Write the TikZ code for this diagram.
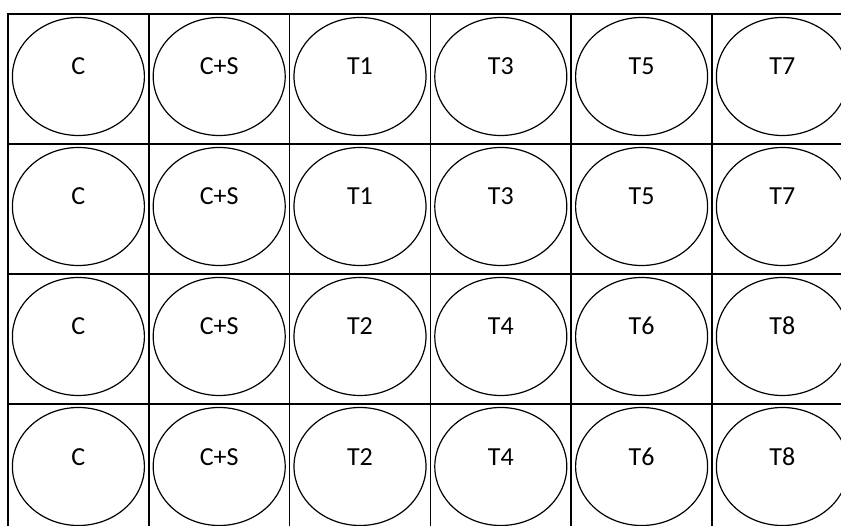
\documentclass[tikz,border=0pt]{standalone}
\usepackage{fontspec}
\setmainfont{Carlito}
\usetikzlibrary{shapes.geometric}
\begin{document}
\begin{tikzpicture}[x=1pt,y=-1pt,
  well/.style={draw, ellipse, line width=1.2pt, minimum width=132pt, minimum height=118pt, inner sep=0pt},
  lbl/.style={anchor=base, inner sep=0pt, font=\fontsize{26}{30}\selectfont},
  gridline/.style={line width=1.5pt, line cap=rect}]
\useasboundingbox (0,0) rectangle (841,526);
\clip (0,0) rectangle (841,526);
\fill[white] (0,0) rectangle (841,526);
% grid
\foreach \c in {0,...,5} {
  \draw[gridline] ({8+140.8*\c},14) -- ({8+140.8*\c},540);
}
\foreach \r in {0,...,3} {
  \draw[gridline] (8,{14+130*\r}) -- (860,{14+130*\r});
}
% wells and labels
\foreach [count=\r from 0] \row in {{C,C+S,T1,T3,T5,T7},{C,C+S,T1,T3,T5,T7},{C,C+S,T2,T4,T6,T8},{C,C+S,T2,T4,T6,T8}} {
  \foreach [count=\c from 0] \t in \row {
    \node[well] (w-\r-\c) at ({78.4+140.8*\c},{14+130*\r+62.5}) {};
    \node[lbl] (t-\r-\c) at ({78.4+140.8*\c},{14+130*\r+61}) {\t};
  }
}
\end{tikzpicture}
\end{document}
